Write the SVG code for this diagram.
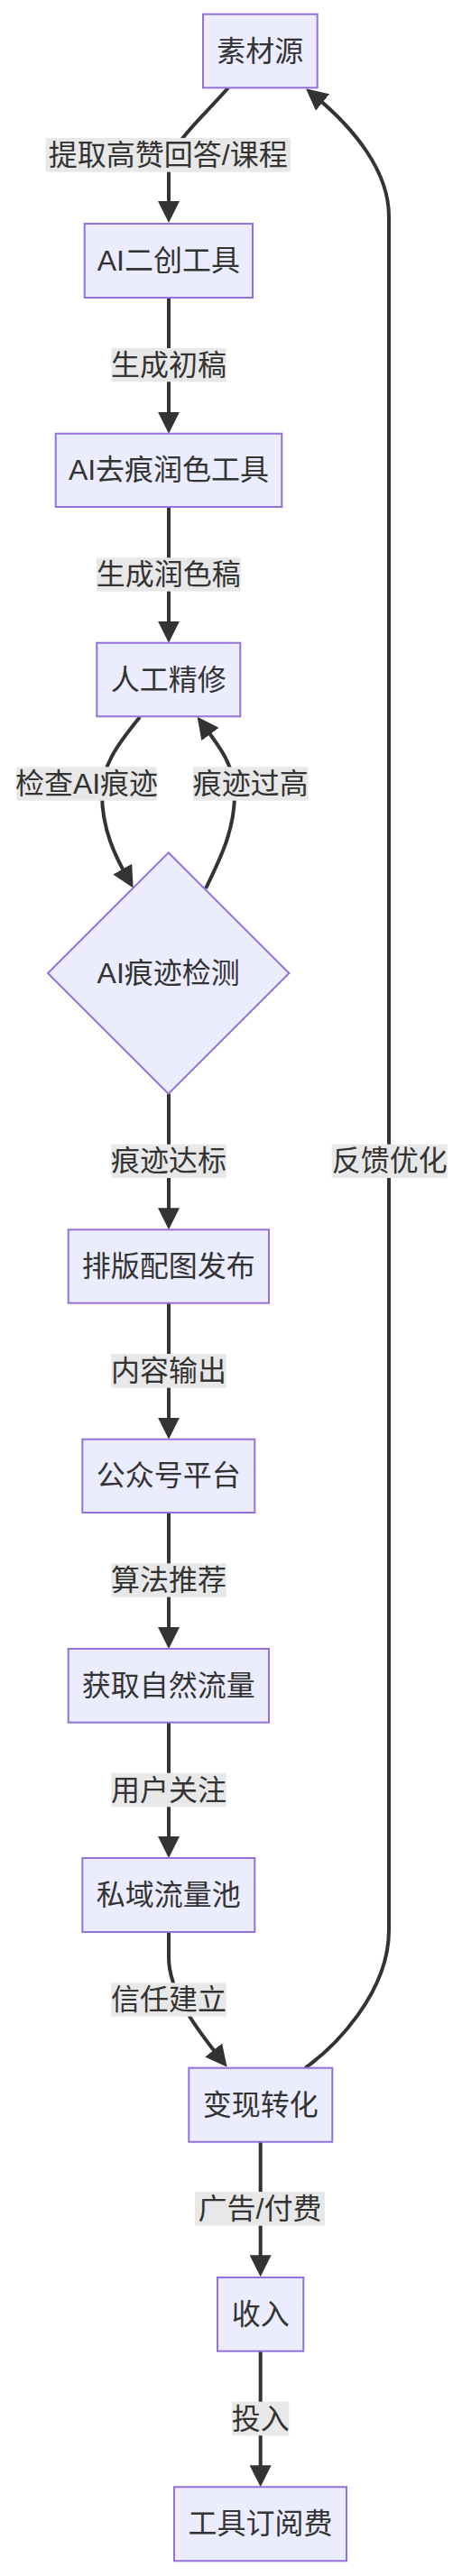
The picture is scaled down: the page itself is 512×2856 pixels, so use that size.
<svg xmlns="http://www.w3.org/2000/svg" width="512" height="2856" viewBox="0 0 512 2856">
<style>
.node rect,.node polygon{fill:#ECECFF;stroke:#9370DB;stroke-width:2}
.node text{font-family:"Liberation Sans","Noto Sans CJK SC",sans-serif;font-size:32px;fill:#333333;text-anchor:middle;dominant-baseline:central}
.edge{fill:none;stroke:#333333;stroke-width:4}
.lbl rect{fill:#e8e8e8}
.lbl text{font-family:"Liberation Sans","Noto Sans CJK SC",sans-serif;font-size:32px;fill:#333333;text-anchor:middle;dominant-baseline:central}
</style>
<defs>
<marker id="arrow" markerUnits="userSpaceOnUse" markerWidth="24" markerHeight="24" viewBox="0 0 24 24" refX="14" refY="12" orient="auto">
<path d="M0,0 L24,12 L0,24 z" fill="#333333"/>
</marker>
</defs>
<rect width="512" height="2856" fill="#ffffff"/>
<g id="connectors">
<path class="edge" marker-end="url(#arrow)" d="M253,97.3 C220,135 187,160 187,190 L187,237"/>
<path class="edge" marker-end="url(#arrow)" d="M187,330 L187,470.7"/>
<path class="edge" marker-end="url(#arrow)" d="M187,562 L187,702.7"/>
<path class="edge" marker-end="url(#arrow)" d="M155,795 C128,828 113,850 113,880 C113,920 128,950 142.7,975.8"/>
<path class="edge" marker-end="url(#arrow)" d="M228,985 C245,950 260,920 260,880 C260,850 245,830 224.6,802.8"/>
<path class="edge" marker-end="url(#arrow)" d="M187,1212.7 L187,1353.3"/>
<path class="edge" marker-end="url(#arrow)" d="M187,1444.7 L187,1585.7"/>
<path class="edge" marker-end="url(#arrow)" d="M187,1677 L187,1818"/>
<path class="edge" marker-end="url(#arrow)" d="M187,1909.7 L187,2050"/>
<path class="edge" marker-end="url(#arrow)" d="M187,2142 L187,2170 C187,2210 220,2252 245.4,2283.9"/>
<path class="edge" marker-end="url(#arrow)" d="M288.7,2374.7 L288.7,2514.3"/>
<path class="edge" marker-end="url(#arrow)" d="M288.7,2606.7 L288.7,2747.3"/>
<path class="edge" marker-end="url(#arrow)" d="M338.3,2292.7 C370,2270 431,2210 431,2140 L431,240 C431,190 393,142.5 346.75,104.6"/>
</g>
<g id="edge-labels">
<g class="lbl"><rect x="50.7" y="153" width="271.3" height="37.7"/><text x="186.3" y="171.8">提取高赞回答/课程</text></g>
<g class="lbl"><rect x="123.3" y="386" width="127.4" height="37.3"/><text x="187" y="404.7">生成初稿</text></g>
<g class="lbl"><rect x="107" y="618.3" width="159.7" height="37.4"/><text x="186.8" y="637">生成润色稿</text></g>
<g class="lbl"><rect x="18.3" y="850.3" width="155.4" height="37.4"/><text x="96" y="869">检查AI痕迹</text></g>
<g class="lbl"><rect x="214" y="850.3" width="127.7" height="37.4"/><text x="277.8" y="869">痕迹过高</text></g>
<g class="lbl"><rect x="123.3" y="1268.7" width="127.4" height="37.3"/><text x="187" y="1287.3">痕迹达标</text></g>
<g class="lbl"><rect x="367.7" y="1268.7" width="128" height="37.3"/><text x="431.7" y="1287.3">反馈优化</text></g>
<g class="lbl"><rect x="123.3" y="1501" width="127.4" height="37.7"/><text x="187" y="1519.8">内容输出</text></g>
<g class="lbl"><rect x="123.3" y="1733.3" width="127.4" height="37.4"/><text x="187" y="1752">算法推荐</text></g>
<g class="lbl"><rect x="123.3" y="1965.7" width="127.4" height="37.6"/><text x="187" y="1984.5">用户关注</text></g>
<g class="lbl"><rect x="123.3" y="2198.3" width="127.4" height="37.4"/><text x="187" y="2217">信任建立</text></g>
<g class="lbl"><rect x="216" y="2430" width="144" height="37.7"/><text x="288" y="2448.8">广告/付费</text></g>
<g class="lbl"><rect x="257" y="2662.7" width="63.3" height="37.6"/><text x="288.7" y="2681.5">投入</text></g>
</g>
<g id="n-source" class="node"><rect x="225" y="15.7" width="126.7" height="81.6"/><text x="288.3" y="56.5">素材源</text></g>
<g id="n-ai-create" class="node"><rect x="93.7" y="248" width="186.3" height="82"/><text x="186.8" y="289">AI二创工具</text></g>
<g id="n-ai-polish" class="node"><rect x="61.7" y="480.7" width="250.6" height="81.3"/><text x="187" y="521.3">AI去痕润色工具</text></g>
<g id="n-manual" class="node"><rect x="107.3" y="712.7" width="159" height="81.6"/><text x="186.8" y="753.5">人工精修</text></g>
<g id="n-detect" class="node"><polygon points="186.7,945.3 320.4,1079 186.7,1212.7 53,1079"/><text x="186.7" y="1079">AI痕迹检测</text></g>
<g id="n-layout" class="node"><rect x="75.7" y="1363.3" width="222.3" height="81.4"/><text x="186.8" y="1404">排版配图发布</text></g>
<g id="n-platform" class="node"><rect x="91.3" y="1595.7" width="191" height="81.3"/><text x="186.8" y="1636.3">公众号平台</text></g>
<g id="n-traffic" class="node"><rect x="75.7" y="1828" width="222.3" height="81.7"/><text x="186.8" y="1868.8">获取自然流量</text></g>
<g id="n-private" class="node"><rect x="91.3" y="2060" width="191" height="82"/><text x="186.8" y="2101">私域流量池</text></g>
<g id="n-monetize" class="node"><rect x="209.3" y="2292.7" width="159" height="82"/><text x="288.8" y="2333.7">变现转化</text></g>
<g id="n-income" class="node"><rect x="241" y="2525" width="95.3" height="81.7"/><text x="288.7" y="2565.8">收入</text></g>
<g id="n-subscription" class="node"><rect x="193" y="2757.3" width="191" height="82"/><text x="288.5" y="2798.3">工具订阅费</text></g>
</svg>
